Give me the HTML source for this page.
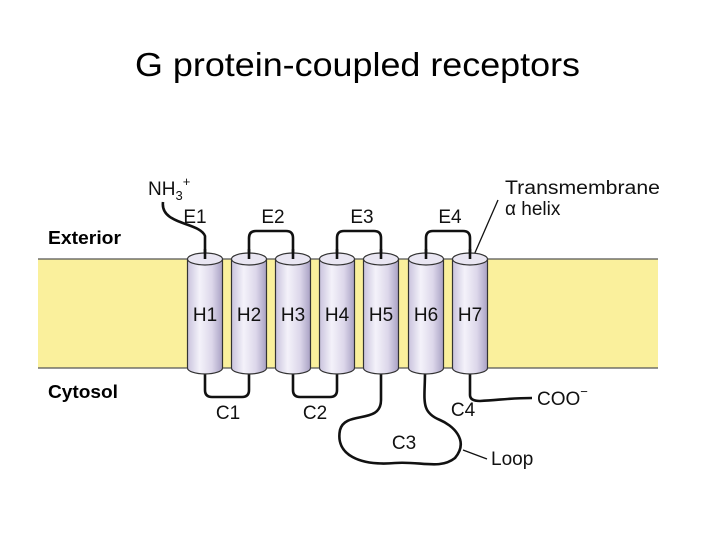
<!DOCTYPE html>
<html><head><meta charset="utf-8"><style>
body{margin:0;background:#fff;width:720px;height:540px;overflow:hidden}
svg{display:block}
text{font-family:"Liberation Sans",sans-serif}
</style></head><body>
<svg width="720" height="540" viewBox="0 0 720 540" xmlns="http://www.w3.org/2000/svg">
<defs>
<linearGradient id="cyl" x1="0" x2="1" y1="0" y2="0">
<stop offset="0" stop-color="#c9c3dd"/><stop offset="0.35" stop-color="#f4f2fa"/><stop offset="0.7" stop-color="#dcd7ea"/><stop offset="1" stop-color="#a9a1c4"/>
</linearGradient>
</defs>
<text x="135" y="76" font-size="33" textLength="445" lengthAdjust="spacingAndGlyphs" fill="#000">G protein-coupled receptors</text>
<rect x="38" y="259" width="620" height="109" fill="#faf09c"/>
<line x1="38" y1="259" x2="658" y2="259" stroke="#555" stroke-width="1.2"/>
<line x1="38" y1="368" x2="658" y2="368" stroke="#555" stroke-width="1.2"/>
<text x="48" y="244" font-size="18" font-weight="bold" textLength="73" lengthAdjust="spacingAndGlyphs">Exterior</text>
<text x="48" y="398" font-size="18" font-weight="bold" textLength="70" lengthAdjust="spacingAndGlyphs">Cytosol</text>
<g fill="none" stroke="#111" stroke-width="2.6">
<path d="M163,202 C160,225 200,222 205,236 L205,258"/>
<path d="M249,258 V238 Q249,231 256,231 H286 Q293,231 293,238 V258"/>
<path d="M337,258 V238 Q337,231 344,231 H374 Q381,231 381,238 V258"/>
<path d="M426,258 V238 Q426,231 433,231 H463 Q470,231 470,238 V258"/>
<path d="M205,372 V390 Q205,397 212,397 H242 Q249,397 249,390 V372"/>
<path d="M293,372 V390 Q293,397 300,397 H330 Q337,397 337,390 V372"/>
<path d="M381,372 V400 C381,425 345,410 340,430 C335,455 360,466 395,463 C420,461 440,470 455,458 C470,440 452,425 440,420 C420,412 425,400 425,372"/>
<path d="M470,372 V395 Q470,401 480,401 C500,400 510,398 532,398"/>
</g>
<line x1="463" y1="450" x2="487" y2="459" stroke="#111" stroke-width="1.3"/>
<line x1="474" y1="255" x2="498" y2="200" stroke="#111" stroke-width="1.3"/>
<g stroke="#333" stroke-width="1.2" fill="url(#cyl)">
<g transform="translate(205,0)"><path d="M-17.5,259 V368 A17.5,6 0 0 0 17.5,368 V259 Z"/><ellipse cx="0" cy="259" rx="17.5" ry="6" fill="#e9e6f2"/></g>
<g transform="translate(249,0)"><path d="M-17.5,259 V368 A17.5,6 0 0 0 17.5,368 V259 Z"/><ellipse cx="0" cy="259" rx="17.5" ry="6" fill="#e9e6f2"/></g>
<g transform="translate(293,0)"><path d="M-17.5,259 V368 A17.5,6 0 0 0 17.5,368 V259 Z"/><ellipse cx="0" cy="259" rx="17.5" ry="6" fill="#e9e6f2"/></g>
<g transform="translate(337,0)"><path d="M-17.5,259 V368 A17.5,6 0 0 0 17.5,368 V259 Z"/><ellipse cx="0" cy="259" rx="17.5" ry="6" fill="#e9e6f2"/></g>
<g transform="translate(381,0)"><path d="M-17.5,259 V368 A17.5,6 0 0 0 17.5,368 V259 Z"/><ellipse cx="0" cy="259" rx="17.5" ry="6" fill="#e9e6f2"/></g>
<g transform="translate(426,0)"><path d="M-17.5,259 V368 A17.5,6 0 0 0 17.5,368 V259 Z"/><ellipse cx="0" cy="259" rx="17.5" ry="6" fill="#e9e6f2"/></g>
<g transform="translate(470,0)"><path d="M-17.5,259 V368 A17.5,6 0 0 0 17.5,368 V259 Z"/><ellipse cx="0" cy="259" rx="17.5" ry="6" fill="#e9e6f2"/></g>
</g>
<g stroke="#111" stroke-width="2.6">
<line x1="205" y1="249" x2="205" y2="259"/><line x1="249" y1="249" x2="249" y2="259"/><line x1="293" y1="249" x2="293" y2="259"/><line x1="337" y1="249" x2="337" y2="259"/><line x1="381" y1="249" x2="381" y2="259"/><line x1="426" y1="249" x2="426" y2="259"/><line x1="470" y1="249" x2="470" y2="259"/>
</g>
<g font-size="19" text-anchor="middle" fill="#111">
<text x="205" y="321">H1</text><text x="249" y="321">H2</text><text x="293" y="321">H3</text><text x="337" y="321">H4</text><text x="381" y="321">H5</text><text x="426" y="321">H6</text><text x="470" y="321">H7</text>
<text x="195" y="223">E1</text><text x="273" y="223">E2</text><text x="362" y="223">E3</text><text x="450" y="223">E4</text>
<text x="228" y="419">C1</text><text x="315" y="419">C2</text><text x="404" y="449">C3</text><text x="463" y="416">C4</text>
</g>
<text x="148" y="195" font-size="19" fill="#111">NH<tspan font-size="13" dy="5">3</tspan><tspan font-size="13" dy="-14">+</tspan></text>
<text x="505" y="194" font-size="19" textLength="155" lengthAdjust="spacingAndGlyphs" fill="#111">Transmembrane</text>
<text x="505" y="215" font-size="19" fill="#111">α helix</text>
<text x="537" y="405" font-size="19" fill="#111">COO<tspan font-size="13" dy="-9">−</tspan></text>
<text x="491" y="465" font-size="19" fill="#111">Loop</text>
</svg>
</body></html>
